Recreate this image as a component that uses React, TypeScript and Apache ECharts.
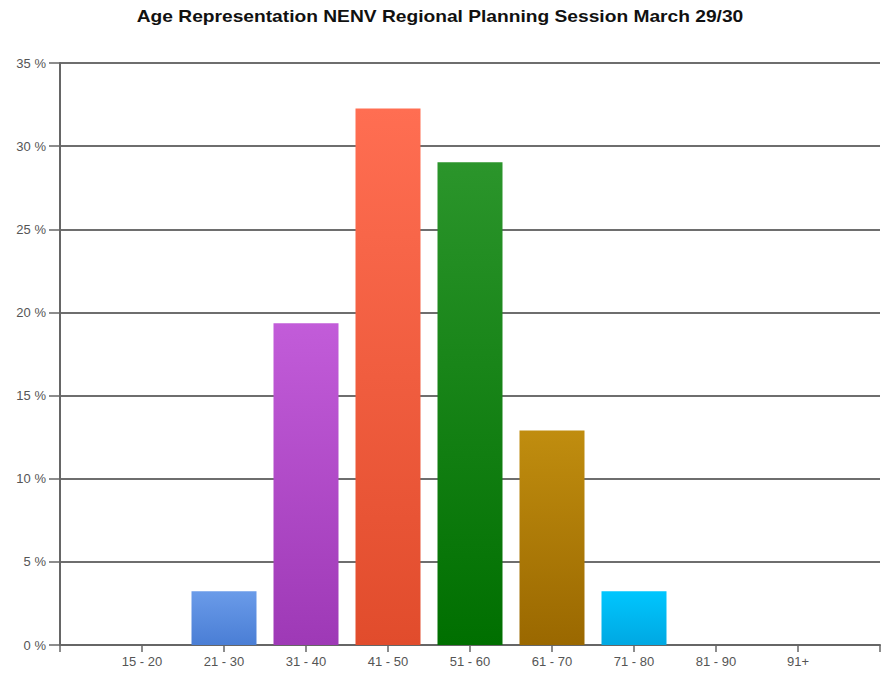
import React, { useEffect, useRef } from "react";
import * as echarts from "echarts";

const categories = ["15 - 20", "21 - 30", "31 - 40", "41 - 50", "51 - 60", "61 - 70", "71 - 80", "81 - 90", "91+"];
const percentValues = [0, 3.23, 19.35, 32.26, 29.03, 12.9, 3.23, 0, 0];
const topColors = ["#6a9be9", "#6a9be9", "#c25cd9", "#ff6e52", "#2b952b", "#c08d0f", "#00c6fe", "#cccccc", "#cccccc"];
const bottomColors = ["#4a7ed5", "#4a7ed5", "#9e39b6", "#e14c2c", "#006f00", "#9a6800", "#00a8e2", "#aaaaaa", "#aaaaaa"];
const yTicks = [0, 5, 10, 15, 20, 25, 30, 35];
const titleText = "Age Representation NENV Regional Planning Session March 29/30";

export default function App() {
  const ref = useRef<HTMLDivElement>(null);
  useEffect(() => {
    if (!ref.current) return;
    const chart = echarts.init(ref.current, null, { renderer: "svg" });
    const data = percentValues.map((v, i) => ({
      value: [i + 1, v],
      itemStyle: {
        color: new echarts.graphic.LinearGradient(0, 0, 0, 1, [
          { offset: 0, color: topColors[i] },
          { offset: 1, color: bottomColors[i] },
        ]),
      },
    }));
    chart.setOption({
      animation: false,
      backgroundColor: "#ffffff",
      graphic: [
        {
          type: "text",
          x: 440,
          y: 17,
          scaleX: 1.2,
          style: {
            text: titleText,
            align: "center",
            verticalAlign: "middle",
            fontFamily: "Liberation Sans, Arial, sans-serif",
            fontSize: 16,
            fontWeight: "bold",
            fill: "#111",
          },
        },
      ],
      grid: { left: 60, top: 63, width: 830, height: 582, containLabel: false },
      xAxis: {
        type: "value",
        min: 0,
        max: 10,
        interval: 1,
        splitLine: { show: false },
        axisLine: { show: true, lineStyle: { color: "#666", width: 2 } },
        axisTick: { show: true, length: 7, lineStyle: { color: "#666", width: 1.5 } },
        axisLabel: {
          color: "#555",
          fontFamily: "Liberation Sans, Arial, sans-serif",
          fontSize: 13,
          margin: 10,
          showMinLabel: true,
          showMaxLabel: true,
          formatter: (v: number) => (v >= 1 && v <= categories.length ? categories[v - 1] : ""),
        },
      },
      yAxis: {
        type: "value",
        min: 0,
        max: yTicks[yTicks.length - 1],
        interval: 5,
        axisLine: { show: true, lineStyle: { color: "#666", width: 2 } },
        axisTick: { show: true, length: 11, lineStyle: { color: "#666", width: 1.5 } },
        splitLine: { show: true, lineStyle: { color: "#6e6e6e", width: 2 } },
        axisLabel: {
          color: "#555",
          fontFamily: "Liberation Sans, Arial, sans-serif",
          fontSize: 13,
          margin: 14,
          formatter: (v: number) => `${v} %`,
        },
      },
      series: [
        {
          type: "bar",
          barWidth: 65,
          data,
          z: 3,
        },
      ],
    });
    return () => chart.dispose();
  }, []);
  return (
    <div
      ref={ref}
      style={{ position: "fixed", left: 0, top: 0, width: 883, height: 675, background: "#fff" }}
    />
  );
}
